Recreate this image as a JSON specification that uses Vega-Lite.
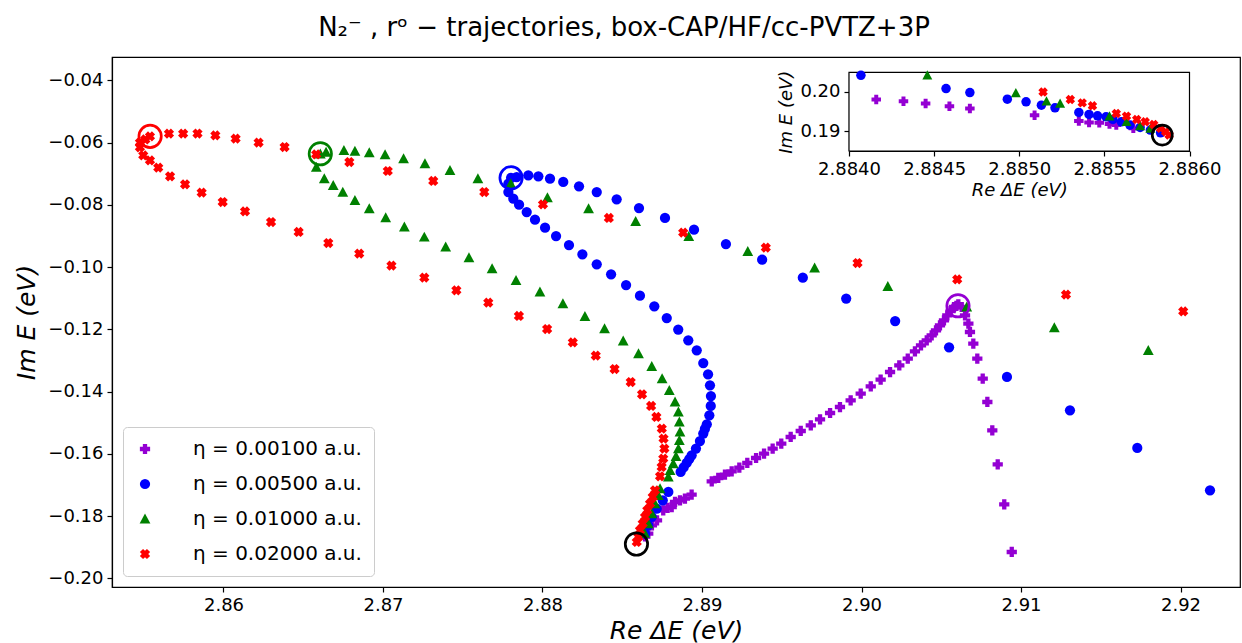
{
  "$schema": "https://vega.github.io/schema/vega-lite/v6.json",
  "width": 1128,
  "height": 530,
  "autosize": "none",
  "padding": {"left": 112, "top": 57, "right": 2, "bottom": 56},
  "background": "white",
  "title": {"text": "N₂⁻ , rᵒ − trajectories, box-CAP/HF/cc-PVTZ+3P", "fontSize": 26, "font": "DejaVu Sans", "fontWeight": "normal", "anchor": "middle", "dx": -52, "offset": 16, "color": "black"},
  "config": {
    "font": "DejaVu Sans",
    "view": {"stroke": "black", "strokeWidth": 1.2},
    "axis": {"grid": false, "domainColor": "black", "domainWidth": 1.2, "tickColor": "black", "tickWidth": 1.2, "labelColor": "black", "titleColor": "black", "labelFont": "DejaVu Sans", "titleFont": "DejaVu Sans", "titleFontWeight": "normal", "tickSize": 5, "labelPadding": 4, "labelFlush": false, "labelOverlap": false}
  },
  "datasets": {
    "main": [
      {"eta": "η = 0.00100 a.u.", "x": 2.88643, "y": -0.1865},
      {"eta": "η = 0.00100 a.u.", "x": 2.88663, "y": -0.18565},
      {"eta": "η = 0.00100 a.u.", "x": 2.88686, "y": -0.18297},
      {"eta": "η = 0.00100 a.u.", "x": 2.88718, "y": -0.18137},
      {"eta": "η = 0.00100 a.u.", "x": 2.88757, "y": -0.17815},
      {"eta": "η = 0.00100 a.u.", "x": 2.88784, "y": -0.17735},
      {"eta": "η = 0.00100 a.u.", "x": 2.8881, "y": -0.1771},
      {"eta": "η = 0.00100 a.u.", "x": 2.88831, "y": -0.17548},
      {"eta": "η = 0.00100 a.u.", "x": 2.88862, "y": -0.17494},
      {"eta": "η = 0.00100 a.u.", "x": 2.88893, "y": -0.1744},
      {"eta": "η = 0.00100 a.u.", "x": 2.88935, "y": -0.17311},
      {"eta": "η = 0.00100 a.u.", "x": 2.89061, "y": -0.16884},
      {"eta": "η = 0.00100 a.u.", "x": 2.89102, "y": -0.16777},
      {"eta": "η = 0.00100 a.u.", "x": 2.89144, "y": -0.16669},
      {"eta": "η = 0.00100 a.u.", "x": 2.89186, "y": -0.16562},
      {"eta": "η = 0.00100 a.u.", "x": 2.89234, "y": -0.16444},
      {"eta": "η = 0.00100 a.u.", "x": 2.89284, "y": -0.16295},
      {"eta": "η = 0.00100 a.u.", "x": 2.89339, "y": -0.16135},
      {"eta": "η = 0.00100 a.u.", "x": 2.89389, "y": -0.15994},
      {"eta": "η = 0.00100 a.u.", "x": 2.89443, "y": -0.15833},
      {"eta": "η = 0.00100 a.u.", "x": 2.89497, "y": -0.15672},
      {"eta": "η = 0.00100 a.u.", "x": 2.89556, "y": -0.1546},
      {"eta": "η = 0.00100 a.u.", "x": 2.89619, "y": -0.15267},
      {"eta": "η = 0.00100 a.u.", "x": 2.89682, "y": -0.15084},
      {"eta": "η = 0.00100 a.u.", "x": 2.8974, "y": -0.14892},
      {"eta": "η = 0.00100 a.u.", "x": 2.89803, "y": -0.14689},
      {"eta": "η = 0.00100 a.u.", "x": 2.89865, "y": -0.14497},
      {"eta": "η = 0.00100 a.u.", "x": 2.89932, "y": -0.14281},
      {"eta": "η = 0.00100 a.u.", "x": 2.89995, "y": -0.14067},
      {"eta": "η = 0.00100 a.u.", "x": 2.90058, "y": -0.13831},
      {"eta": "η = 0.00100 a.u.", "x": 2.9012, "y": -0.13617},
      {"eta": "η = 0.00100 a.u.", "x": 2.90179, "y": -0.13372},
      {"eta": "η = 0.00100 a.u.", "x": 2.90237, "y": -0.13157},
      {"eta": "η = 0.00100 a.u.", "x": 2.9029, "y": -0.12942},
      {"eta": "η = 0.00100 a.u.", "x": 2.90335, "y": -0.12707},
      {"eta": "η = 0.00100 a.u.", "x": 2.90373, "y": -0.12514},
      {"eta": "η = 0.00100 a.u.", "x": 2.90409, "y": -0.12353},
      {"eta": "η = 0.00100 a.u.", "x": 2.9044, "y": -0.12193},
      {"eta": "η = 0.00100 a.u.", "x": 2.90467, "y": -0.12032},
      {"eta": "η = 0.00100 a.u.", "x": 2.90492, "y": -0.11871},
      {"eta": "η = 0.00100 a.u.", "x": 2.90517, "y": -0.11711},
      {"eta": "η = 0.00100 a.u.", "x": 2.90538, "y": -0.1155},
      {"eta": "η = 0.00100 a.u.", "x": 2.90559, "y": -0.11412},
      {"eta": "η = 0.00100 a.u.", "x": 2.9058, "y": -0.11283},
      {"eta": "η = 0.00100 a.u.", "x": 2.90607, "y": -0.11197},
      {"eta": "η = 0.00100 a.u.", "x": 2.90595, "y": -0.1125},
      {"eta": "η = 0.00100 a.u.", "x": 2.90628, "y": -0.11283},
      {"eta": "η = 0.00100 a.u.", "x": 2.90649, "y": -0.1155},
      {"eta": "η = 0.00100 a.u.", "x": 2.9067, "y": -0.11818},
      {"eta": "η = 0.00100 a.u.", "x": 2.9068, "y": -0.12086},
      {"eta": "η = 0.00100 a.u.", "x": 2.90701, "y": -0.1246},
      {"eta": "η = 0.00100 a.u.", "x": 2.90726, "y": -0.12942},
      {"eta": "η = 0.00100 a.u.", "x": 2.9076, "y": -0.13585},
      {"eta": "η = 0.00100 a.u.", "x": 2.90789, "y": -0.14335},
      {"eta": "η = 0.00100 a.u.", "x": 2.9082, "y": -0.15245},
      {"eta": "η = 0.00100 a.u.", "x": 2.90854, "y": -0.16337},
      {"eta": "η = 0.00100 a.u.", "x": 2.90895, "y": -0.17622},
      {"eta": "η = 0.00100 a.u.", "x": 2.90942, "y": -0.19155},

      {"eta": "η = 0.00500 a.u.", "x": 2.87803, "y": -0.07133},
      {"eta": "η = 0.00500 a.u.", "x": 2.87838, "y": -0.07106},
      {"eta": "η = 0.00500 a.u.", "x": 2.87911, "y": -0.07052},
      {"eta": "η = 0.00500 a.u.", "x": 2.87974, "y": -0.07084},
      {"eta": "η = 0.00500 a.u.", "x": 2.88047, "y": -0.07159},
      {"eta": "η = 0.00500 a.u.", "x": 2.8813, "y": -0.07266},
      {"eta": "η = 0.00500 a.u.", "x": 2.88229, "y": -0.07406},
      {"eta": "η = 0.00500 a.u.", "x": 2.8834, "y": -0.07589},
      {"eta": "η = 0.00500 a.u.", "x": 2.88465, "y": -0.07823},
      {"eta": "η = 0.00500 a.u.", "x": 2.88605, "y": -0.08103},
      {"eta": "η = 0.00500 a.u.", "x": 2.88768, "y": -0.08423},
      {"eta": "η = 0.00500 a.u.", "x": 2.8895, "y": -0.08797},
      {"eta": "η = 0.00500 a.u.", "x": 2.8915, "y": -0.09259},
      {"eta": "η = 0.00500 a.u.", "x": 2.89377, "y": -0.09761},
      {"eta": "η = 0.00500 a.u.", "x": 2.89632, "y": -0.1034},
      {"eta": "η = 0.00500 a.u.", "x": 2.89904, "y": -0.11013},
      {"eta": "η = 0.00500 a.u.", "x": 2.90211, "y": -0.11733},
      {"eta": "η = 0.00500 a.u.", "x": 2.90549, "y": -0.12578},
      {"eta": "η = 0.00500 a.u.", "x": 2.90912, "y": -0.13532},
      {"eta": "η = 0.00500 a.u.", "x": 2.91307, "y": -0.14602},
      {"eta": "η = 0.00500 a.u.", "x": 2.91729, "y": -0.15813},
      {"eta": "η = 0.00500 a.u.", "x": 2.92185, "y": -0.17173},
      {"eta": "η = 0.00500 a.u.", "x": 2.87786, "y": -0.07319},
      {"eta": "η = 0.00500 a.u.", "x": 2.87786, "y": -0.07589},
      {"eta": "η = 0.00500 a.u.", "x": 2.87817, "y": -0.07801},
      {"eta": "η = 0.00500 a.u.", "x": 2.87853, "y": -0.07994},
      {"eta": "η = 0.00500 a.u.", "x": 2.87901, "y": -0.08231},
      {"eta": "η = 0.00500 a.u.", "x": 2.87953, "y": -0.08476},
      {"eta": "η = 0.00500 a.u.", "x": 2.88016, "y": -0.08733},
      {"eta": "η = 0.00500 a.u.", "x": 2.88085, "y": -0.09002},
      {"eta": "η = 0.00500 a.u.", "x": 2.88166, "y": -0.09291},
      {"eta": "η = 0.00500 a.u.", "x": 2.8825, "y": -0.0959},
      {"eta": "η = 0.00500 a.u.", "x": 2.8834, "y": -0.09912},
      {"eta": "η = 0.00500 a.u.", "x": 2.8843, "y": -0.10233},
      {"eta": "η = 0.00500 a.u.", "x": 2.88524, "y": -0.10577},
      {"eta": "η = 0.00500 a.u.", "x": 2.88611, "y": -0.10918},
      {"eta": "η = 0.00500 a.u.", "x": 2.88701, "y": -0.11261},
      {"eta": "η = 0.00500 a.u.", "x": 2.88779, "y": -0.11637},
      {"eta": "η = 0.00500 a.u.", "x": 2.88851, "y": -0.1201},
      {"eta": "η = 0.00500 a.u.", "x": 2.88914, "y": -0.12353},
      {"eta": "η = 0.00500 a.u.", "x": 2.88967, "y": -0.12675},
      {"eta": "η = 0.00500 a.u.", "x": 2.89008, "y": -0.13083},
      {"eta": "η = 0.00500 a.u.", "x": 2.89038, "y": -0.13446},
      {"eta": "η = 0.00500 a.u.", "x": 2.8905, "y": -0.13799},
      {"eta": "η = 0.00500 a.u.", "x": 2.89056, "y": -0.14143},
      {"eta": "η = 0.00500 a.u.", "x": 2.89055, "y": -0.14464},
      {"eta": "η = 0.00500 a.u.", "x": 2.89046, "y": -0.14763},
      {"eta": "η = 0.00500 a.u.", "x": 2.8903, "y": -0.15052},
      {"eta": "η = 0.00500 a.u.", "x": 2.89018, "y": -0.152},
      {"eta": "η = 0.00500 a.u.", "x": 2.89008, "y": -0.15351},
      {"eta": "η = 0.00500 a.u.", "x": 2.88987, "y": -0.15589},
      {"eta": "η = 0.00500 a.u.", "x": 2.88962, "y": -0.15833},
      {"eta": "η = 0.00500 a.u.", "x": 2.88935, "y": -0.16048},
      {"eta": "η = 0.00500 a.u.", "x": 2.8892, "y": -0.1617},
      {"eta": "η = 0.00500 a.u.", "x": 2.88904, "y": -0.16295},
      {"eta": "η = 0.00500 a.u.", "x": 2.88885, "y": -0.1644},
      {"eta": "η = 0.00500 a.u.", "x": 2.88866, "y": -0.16584},
      {"eta": "η = 0.00500 a.u.", "x": 2.88789, "y": -0.17226},
      {"eta": "η = 0.00500 a.u.", "x": 2.88754, "y": -0.17494},
      {"eta": "η = 0.00500 a.u.", "x": 2.88716, "y": -0.17761},
      {"eta": "η = 0.00500 a.u.", "x": 2.88685, "y": -0.1803},
      {"eta": "η = 0.00500 a.u.", "x": 2.88663, "y": -0.18297},
      {"eta": "η = 0.00500 a.u.", "x": 2.88643, "y": -0.18565},

      {"eta": "η = 0.01000 a.u.", "x": 2.86607, "y": -0.0636},
      {"eta": "η = 0.01000 a.u.", "x": 2.86643, "y": -0.06303},
      {"eta": "η = 0.01000 a.u.", "x": 2.86755, "y": -0.06249},
      {"eta": "η = 0.01000 a.u.", "x": 2.86824, "y": -0.06271},
      {"eta": "η = 0.01000 a.u.", "x": 2.86914, "y": -0.06324},
      {"eta": "η = 0.01000 a.u.", "x": 2.87013, "y": -0.06388},
      {"eta": "η = 0.01000 a.u.", "x": 2.87129, "y": -0.06517},
      {"eta": "η = 0.01000 a.u.", "x": 2.87263, "y": -0.06677},
      {"eta": "η = 0.01000 a.u.", "x": 2.8742, "y": -0.06892},
      {"eta": "η = 0.01000 a.u.", "x": 2.87595, "y": -0.07159},
      {"eta": "η = 0.01000 a.u.", "x": 2.87801, "y": -0.0732},
      {"eta": "η = 0.01000 a.u.", "x": 2.88031, "y": -0.0777},
      {"eta": "η = 0.01000 a.u.", "x": 2.88289, "y": -0.08123},
      {"eta": "η = 0.01000 a.u.", "x": 2.88584, "y": -0.0853},
      {"eta": "η = 0.01000 a.u.", "x": 2.88917, "y": -0.09012},
      {"eta": "η = 0.01000 a.u.", "x": 2.89287, "y": -0.09494},
      {"eta": "η = 0.01000 a.u.", "x": 2.89706, "y": -0.1003},
      {"eta": "η = 0.01000 a.u.", "x": 2.90165, "y": -0.10618},
      {"eta": "η = 0.01000 a.u.", "x": 2.9066, "y": -0.11283},
      {"eta": "η = 0.01000 a.u.", "x": 2.91209, "y": -0.11946},
      {"eta": "η = 0.01000 a.u.", "x": 2.91798, "y": -0.12675},
      {"eta": "η = 0.01000 a.u.", "x": 2.86582, "y": -0.06785},
      {"eta": "η = 0.01000 a.u.", "x": 2.86632, "y": -0.07159},
      {"eta": "η = 0.01000 a.u.", "x": 2.86688, "y": -0.07373},
      {"eta": "η = 0.01000 a.u.", "x": 2.86748, "y": -0.07589},
      {"eta": "η = 0.01000 a.u.", "x": 2.86824, "y": -0.07855},
      {"eta": "η = 0.01000 a.u.", "x": 2.86914, "y": -0.08123},
      {"eta": "η = 0.01000 a.u.", "x": 2.87017, "y": -0.08412},
      {"eta": "η = 0.01000 a.u.", "x": 2.87134, "y": -0.08712},
      {"eta": "η = 0.01000 a.u.", "x": 2.87259, "y": -0.09034},
      {"eta": "η = 0.01000 a.u.", "x": 2.87393, "y": -0.09355},
      {"eta": "η = 0.01000 a.u.", "x": 2.87539, "y": -0.09698},
      {"eta": "η = 0.01000 a.u.", "x": 2.87684, "y": -0.10051},
      {"eta": "η = 0.01000 a.u.", "x": 2.87834, "y": -0.10426},
      {"eta": "η = 0.01000 a.u.", "x": 2.87984, "y": -0.108},
      {"eta": "η = 0.01000 a.u.", "x": 2.88128, "y": -0.11176},
      {"eta": "η = 0.01000 a.u.", "x": 2.88266, "y": -0.11583},
      {"eta": "η = 0.01000 a.u.", "x": 2.88389, "y": -0.11979},
      {"eta": "η = 0.01000 a.u.", "x": 2.88506, "y": -0.12375},
      {"eta": "η = 0.01000 a.u.", "x": 2.88602, "y": -0.12782},
      {"eta": "η = 0.01000 a.u.", "x": 2.88685, "y": -0.13189},
      {"eta": "η = 0.01000 a.u.", "x": 2.8875, "y": -0.13585},
      {"eta": "η = 0.01000 a.u.", "x": 2.88795, "y": -0.1396},
      {"eta": "η = 0.01000 a.u.", "x": 2.88831, "y": -0.14335},
      {"eta": "η = 0.01000 a.u.", "x": 2.88852, "y": -0.14657},
      {"eta": "η = 0.01000 a.u.", "x": 2.88858, "y": -0.14978},
      {"eta": "η = 0.01000 a.u.", "x": 2.88862, "y": -0.15299},
      {"eta": "η = 0.01000 a.u.", "x": 2.88858, "y": -0.15566},
      {"eta": "η = 0.01000 a.u.", "x": 2.88852, "y": -0.15833},
      {"eta": "η = 0.01000 a.u.", "x": 2.88837, "y": -0.1608},
      {"eta": "η = 0.01000 a.u.", "x": 2.8882, "y": -0.16316},
      {"eta": "η = 0.01000 a.u.", "x": 2.888, "y": -0.1653},
      {"eta": "η = 0.01000 a.u.", "x": 2.88789, "y": -0.16745},
      {"eta": "η = 0.01000 a.u.", "x": 2.88737, "y": -0.17118},
      {"eta": "η = 0.01000 a.u.", "x": 2.88726, "y": -0.17333},
      {"eta": "η = 0.01000 a.u.", "x": 2.88705, "y": -0.17601},
      {"eta": "η = 0.01000 a.u.", "x": 2.88685, "y": -0.17922},
      {"eta": "η = 0.01000 a.u.", "x": 2.88663, "y": -0.18243},
      {"eta": "η = 0.01000 a.u.", "x": 2.8864, "y": -0.1855},

      {"eta": "η = 0.02000 a.u.", "x": 2.85539, "y": -0.058},
      {"eta": "η = 0.02000 a.u.", "x": 2.8551, "y": -0.059},
      {"eta": "η = 0.02000 a.u.", "x": 2.85476, "y": -0.06},
      {"eta": "η = 0.02000 a.u.", "x": 2.85476, "y": -0.0615},
      {"eta": "η = 0.02000 a.u.", "x": 2.85497, "y": -0.0641},
      {"eta": "η = 0.02000 a.u.", "x": 2.85539, "y": -0.0657},
      {"eta": "η = 0.02000 a.u.", "x": 2.85591, "y": -0.06805},
      {"eta": "η = 0.02000 a.u.", "x": 2.85665, "y": -0.07084},
      {"eta": "η = 0.02000 a.u.", "x": 2.85759, "y": -0.07341},
      {"eta": "η = 0.02000 a.u.", "x": 2.85863, "y": -0.07609},
      {"eta": "η = 0.02000 a.u.", "x": 2.85995, "y": -0.0791},
      {"eta": "η = 0.02000 a.u.", "x": 2.86135, "y": -0.08209},
      {"eta": "η = 0.02000 a.u.", "x": 2.86298, "y": -0.08552},
      {"eta": "η = 0.02000 a.u.", "x": 2.86471, "y": -0.08873},
      {"eta": "η = 0.02000 a.u.", "x": 2.86657, "y": -0.09227},
      {"eta": "η = 0.02000 a.u.", "x": 2.86851, "y": -0.09569},
      {"eta": "η = 0.02000 a.u.", "x": 2.87053, "y": -0.09955},
      {"eta": "η = 0.02000 a.u.", "x": 2.87259, "y": -0.1034},
      {"eta": "η = 0.02000 a.u.", "x": 2.8746, "y": -0.10747},
      {"eta": "η = 0.02000 a.u.", "x": 2.8766, "y": -0.11143},
      {"eta": "η = 0.02000 a.u.", "x": 2.87852, "y": -0.11572},
      {"eta": "η = 0.02000 a.u.", "x": 2.88029, "y": -0.1199},
      {"eta": "η = 0.02000 a.u.", "x": 2.8819, "y": -0.12418},
      {"eta": "η = 0.02000 a.u.", "x": 2.88334, "y": -0.12845},
      {"eta": "η = 0.02000 a.u.", "x": 2.88452, "y": -0.13276},
      {"eta": "η = 0.02000 a.u.", "x": 2.88553, "y": -0.13693},
      {"eta": "η = 0.02000 a.u.", "x": 2.88624, "y": -0.14088},
      {"eta": "η = 0.02000 a.u.", "x": 2.88681, "y": -0.14464},
      {"eta": "η = 0.02000 a.u.", "x": 2.88714, "y": -0.14817},
      {"eta": "η = 0.02000 a.u.", "x": 2.88748, "y": -0.1519},
      {"eta": "η = 0.02000 a.u.", "x": 2.88759, "y": -0.15512},
      {"eta": "η = 0.02000 a.u.", "x": 2.88764, "y": -0.15833},
      {"eta": "η = 0.02000 a.u.", "x": 2.88757, "y": -0.16154},
      {"eta": "η = 0.02000 a.u.", "x": 2.88747, "y": -0.16424},
      {"eta": "η = 0.02000 a.u.", "x": 2.88737, "y": -0.16723},
      {"eta": "η = 0.02000 a.u.", "x": 2.88705, "y": -0.17173},
      {"eta": "η = 0.02000 a.u.", "x": 2.88691, "y": -0.17388},
      {"eta": "η = 0.02000 a.u.", "x": 2.88674, "y": -0.17602},
      {"eta": "η = 0.02000 a.u.", "x": 2.88657, "y": -0.17815},
      {"eta": "η = 0.02000 a.u.", "x": 2.88643, "y": -0.1803},
      {"eta": "η = 0.02000 a.u.", "x": 2.88628, "y": -0.18243},
      {"eta": "η = 0.02000 a.u.", "x": 2.88611, "y": -0.18458},
      {"eta": "η = 0.02000 a.u.", "x": 2.88601, "y": -0.18673},
      {"eta": "η = 0.02000 a.u.", "x": 2.88591, "y": -0.18834},
      {"eta": "η = 0.02000 a.u.", "x": 2.85658, "y": -0.05713},
      {"eta": "η = 0.02000 a.u.", "x": 2.85747, "y": -0.05713},
      {"eta": "η = 0.02000 a.u.", "x": 2.85837, "y": -0.0571},
      {"eta": "η = 0.02000 a.u.", "x": 2.85949, "y": -0.05767},
      {"eta": "η = 0.02000 a.u.", "x": 2.86076, "y": -0.05874},
      {"eta": "η = 0.02000 a.u.", "x": 2.8622, "y": -0.06},
      {"eta": "η = 0.02000 a.u.", "x": 2.86383, "y": -0.06142},
      {"eta": "η = 0.02000 a.u.", "x": 2.86581, "y": -0.06378},
      {"eta": "η = 0.02000 a.u.", "x": 2.86789, "y": -0.06624},
      {"eta": "η = 0.02000 a.u.", "x": 2.8703, "y": -0.06913},
      {"eta": "η = 0.02000 a.u.", "x": 2.87315, "y": -0.07234},
      {"eta": "η = 0.02000 a.u.", "x": 2.87635, "y": -0.07589},
      {"eta": "η = 0.02000 a.u.", "x": 2.88003, "y": -0.07984},
      {"eta": "η = 0.02000 a.u.", "x": 2.88416, "y": -0.08423},
      {"eta": "η = 0.02000 a.u.", "x": 2.88882, "y": -0.08894},
      {"eta": "η = 0.02000 a.u.", "x": 2.894, "y": -0.09376},
      {"eta": "η = 0.02000 a.u.", "x": 2.89975, "y": -0.0987},
      {"eta": "η = 0.02000 a.u.", "x": 2.906, "y": -0.10394},
      {"eta": "η = 0.02000 a.u.", "x": 2.91282, "y": -0.10886},
      {"eta": "η = 0.02000 a.u.", "x": 2.92017, "y": -0.11422}
    ],
    "rings": [
      {"x": 2.8554, "y": -0.058, "c": "#FF0000"},
      {"x": 2.86607, "y": -0.0636, "c": "#008000"},
      {"x": 2.87803, "y": -0.07133, "c": "#0000FF"},
      {"x": 2.90605, "y": -0.11244, "c": "#9400D3"},
      {"x": 2.88589, "y": -0.189, "c": "#000000"}
    ],
    "inset": [
      {"eta": "η = 0.00100 a.u.", "x": 2.88416, "y": 0.19809},
      {"eta": "η = 0.00100 a.u.", "x": 2.88432, "y": 0.19766},
      {"eta": "η = 0.00100 a.u.", "x": 2.88445, "y": 0.19707},
      {"eta": "η = 0.00100 a.u.", "x": 2.88459, "y": 0.19639},
      {"eta": "η = 0.00100 a.u.", "x": 2.88471, "y": 0.1958},
      {"eta": "η = 0.00100 a.u.", "x": 2.88509, "y": 0.19411},
      {"eta": "η = 0.00100 a.u.", "x": 2.88535, "y": 0.1926},
      {"eta": "η = 0.00100 a.u.", "x": 2.88541, "y": 0.19226},
      {"eta": "η = 0.00100 a.u.", "x": 2.88547, "y": 0.19217},
      {"eta": "η = 0.00100 a.u.", "x": 2.88553, "y": 0.19184},
      {"eta": "η = 0.00100 a.u.", "x": 2.88557, "y": 0.19158},
      {"eta": "η = 0.00100 a.u.", "x": 2.88567, "y": 0.19075},
      {"eta": "η = 0.00500 a.u.", "x": 2.88407, "y": 0.20424},
      {"eta": "η = 0.00500 a.u.", "x": 2.88457, "y": 0.20087},
      {"eta": "η = 0.00500 a.u.", "x": 2.88471, "y": 0.19986},
      {"eta": "η = 0.00500 a.u.", "x": 2.88493, "y": 0.19816},
      {"eta": "η = 0.00500 a.u.", "x": 2.88504, "y": 0.19749},
      {"eta": "η = 0.00500 a.u.", "x": 2.88513, "y": 0.19665},
      {"eta": "η = 0.00500 a.u.", "x": 2.88521, "y": 0.19597},
      {"eta": "η = 0.00500 a.u.", "x": 2.88535, "y": 0.1948},
      {"eta": "η = 0.00500 a.u.", "x": 2.88541, "y": 0.19429},
      {"eta": "η = 0.00500 a.u.", "x": 2.88546, "y": 0.19394},
      {"eta": "η = 0.00500 a.u.", "x": 2.88551, "y": 0.19369},
      {"eta": "η = 0.00500 a.u.", "x": 2.88555, "y": 0.19302},
      {"eta": "η = 0.00500 a.u.", "x": 2.8856, "y": 0.19242},
      {"eta": "η = 0.00500 a.u.", "x": 2.88565, "y": 0.19158},
      {"eta": "η = 0.00500 a.u.", "x": 2.88571, "y": 0.191},
      {"eta": "η = 0.00500 a.u.", "x": 2.88577, "y": 0.19032},
      {"eta": "η = 0.00500 a.u.", "x": 2.88583, "y": 0.18963},
      {"eta": "η = 0.01000 a.u.", "x": 2.88446, "y": 0.20424},
      {"eta": "η = 0.01000 a.u.", "x": 2.88498, "y": 0.19976},
      {"eta": "η = 0.01000 a.u.", "x": 2.88516, "y": 0.19766},
      {"eta": "η = 0.01000 a.u.", "x": 2.88524, "y": 0.19707},
      {"eta": "η = 0.01000 a.u.", "x": 2.88553, "y": 0.19386},
      {"eta": "η = 0.01000 a.u.", "x": 2.88563, "y": 0.19242},
      {"eta": "η = 0.01000 a.u.", "x": 2.88571, "y": 0.19133},
      {"eta": "η = 0.01000 a.u.", "x": 2.88577, "y": 0.19075},
      {"eta": "η = 0.02000 a.u.", "x": 2.88514, "y": 0.2},
      {"eta": "η = 0.02000 a.u.", "x": 2.8853, "y": 0.19809},
      {"eta": "η = 0.02000 a.u.", "x": 2.88537, "y": 0.19723},
      {"eta": "η = 0.02000 a.u.", "x": 2.88543, "y": 0.19647},
      {"eta": "η = 0.02000 a.u.", "x": 2.88557, "y": 0.19454},
      {"eta": "η = 0.02000 a.u.", "x": 2.88563, "y": 0.19386},
      {"eta": "η = 0.02000 a.u.", "x": 2.88569, "y": 0.19302},
      {"eta": "η = 0.02000 a.u.", "x": 2.88574, "y": 0.19242},
      {"eta": "η = 0.02000 a.u.", "x": 2.88579, "y": 0.19175},
      {"eta": "η = 0.02000 a.u.", "x": 2.88583, "y": 0.19075},
      {"eta": "η = 0.02000 a.u.", "x": 2.88586, "y": 0.18989},
      {"eta": "η = 0.02000 a.u.", "x": 2.88588, "y": 0.18905}
    ],
    "insetRing": [{"x": 2.88584, "y": 0.18905}],
    "frame": [{"x0": 2.884, "x1": 2.886, "y0": 0.185, "y1": 0.205}]
  },
  "layer": [
    {
      "layer": [
        {
          "data": {"name": "main"},
          "mark": {"type": "point", "filled": true, "opacity": 1, "size": 105, "strokeWidth": 0},
          "encoding": {
            "x": {"field": "x", "type": "quantitative",
              "scale": {"domain": [2.85301, 2.92373], "nice": false, "zero": false},
              "axis": {"orient": "bottom", "values": [2.86, 2.87, 2.88, 2.89, 2.9, 2.91, 2.92], "format": ".2f", "labelFontSize": 18, "title": "Re ΔE (eV)", "titleFontSize": 25, "titleFontStyle": "italic", "titlePadding": 4}},
            "y": {"field": "y", "type": "quantitative",
              "scale": {"domain": [-0.2028, -0.0325], "nice": false, "zero": false},
              "axis": {"orient": "left", "values": [-0.2, -0.18, -0.16, -0.14, -0.12, -0.1, -0.08, -0.06, -0.04], "format": ".2f", "labelFontSize": 18, "title": "Im E (eV)", "titleFontSize": 25, "titleFontStyle": "italic", "titlePadding": 8}},
            "color": {"field": "eta", "type": "nominal",
              "scale": {"domain": ["η = 0.00100 a.u.", "η = 0.00500 a.u.", "η = 0.01000 a.u.", "η = 0.02000 a.u."], "range": ["#9400D3", "#0000FF", "#008000", "#FF0000"]},
              "legend": {"orient": "bottom-left", "offset": 11, "title": null, "labelFontSize": 20, "labelFont": "DejaVu Sans", "labelColor": "black", "labelLimit": 400, "symbolSize": 105, "rowPadding": 15, "padding": 12, "strokeColor": "#cccccc", "fillColor": "rgba(255,255,255,0.8)", "cornerRadius": 4, "labelOffset": 38, "symbolStrokeWidth": 0, "symbolOpacity": 1}},
            "shape": {"field": "eta", "type": "nominal",
              "scale": {"domain": ["η = 0.00100 a.u.", "η = 0.00500 a.u.", "η = 0.01000 a.u.", "η = 0.02000 a.u."],
                "range": ["M-0.42,-1L0.42,-1L0.42,-0.42L1,-0.42L1,0.42L0.42,0.42L0.42,1L-0.42,1L-0.42,0.42L-1,0.42L-1,-0.42L-0.42,-0.42Z", "circle", "M0,-1.05L1.05,0.9L-1.05,0.9Z", "M0.62,0L1,0.38L0.38,1L0,0.62L-0.38,1L-1,0.38L-0.62,0L-1,-0.38L-0.38,-1L0,-0.62L0.38,-1L1,-0.38Z"]}}
          }
        },
        {
          "data": {"name": "rings"},
          "mark": {"type": "point", "shape": "circle", "filled": false, "opacity": 1, "size": 500, "strokeWidth": 2.7},
          "encoding": {
            "x": {"field": "x", "type": "quantitative"},
            "y": {"field": "y", "type": "quantitative"},
            "stroke": {"field": "c", "type": "nominal", "scale": null}
          }
        }
      ]
    },
    {
      "layer": [
        {
          "data": {"name": "frame"},
          "mark": {"type": "rect", "fill": "white", "stroke": "black", "strokeWidth": 1.2},
          "encoding": {
            "x": {"field": "x0", "type": "quantitative",
              "scale": {"domain": [2.884, 2.886], "range": [737, 1077.5], "nice": false, "zero": false},
              "axis": {"orient": "bottom", "offset": -436, "values": [2.884, 2.8845, 2.885, 2.8855, 2.886], "format": ".4f", "labelFontSize": 18, "title": "Re ΔE (eV)", "titleFontSize": 18, "titleFontStyle": "italic", "titlePadding": 3}},
            "x2": {"field": "x1"},
            "y": {"field": "y0", "type": "quantitative",
              "scale": {"domain": [0.185, 0.205], "range": [94, 15.3], "nice": false, "zero": false},
              "axis": {"orient": "left", "offset": -737, "values": [0.19, 0.2], "format": ".2f", "labelFontSize": 18, "title": "Im E (eV)", "titleFontSize": 18, "titleFontStyle": "italic", "titlePadding": 4}},
            "y2": {"field": "y1"}
          }
        },
        {
          "data": {"name": "inset"},
          "mark": {"type": "point", "filled": true, "opacity": 1, "size": 90, "strokeWidth": 0},
          "encoding": {
            "x": {"field": "x", "type": "quantitative"},
            "y": {"field": "y", "type": "quantitative"},
            "color": {"field": "eta", "type": "nominal"},
            "shape": {"field": "eta", "type": "nominal"}
          }
        },
        {
          "data": {"name": "insetRing"},
          "mark": {"type": "point", "shape": "circle", "filled": false, "opacity": 1, "size": 400, "strokeWidth": 2.7, "stroke": "black"},
          "encoding": {
            "x": {"field": "x", "type": "quantitative"},
            "y": {"field": "y", "type": "quantitative"}
          }
        }
      ]
    }
  ],
  "resolve": {"scale": {"x": "independent", "y": "independent"}, "axis": {"x": "independent", "y": "independent"}}
}
